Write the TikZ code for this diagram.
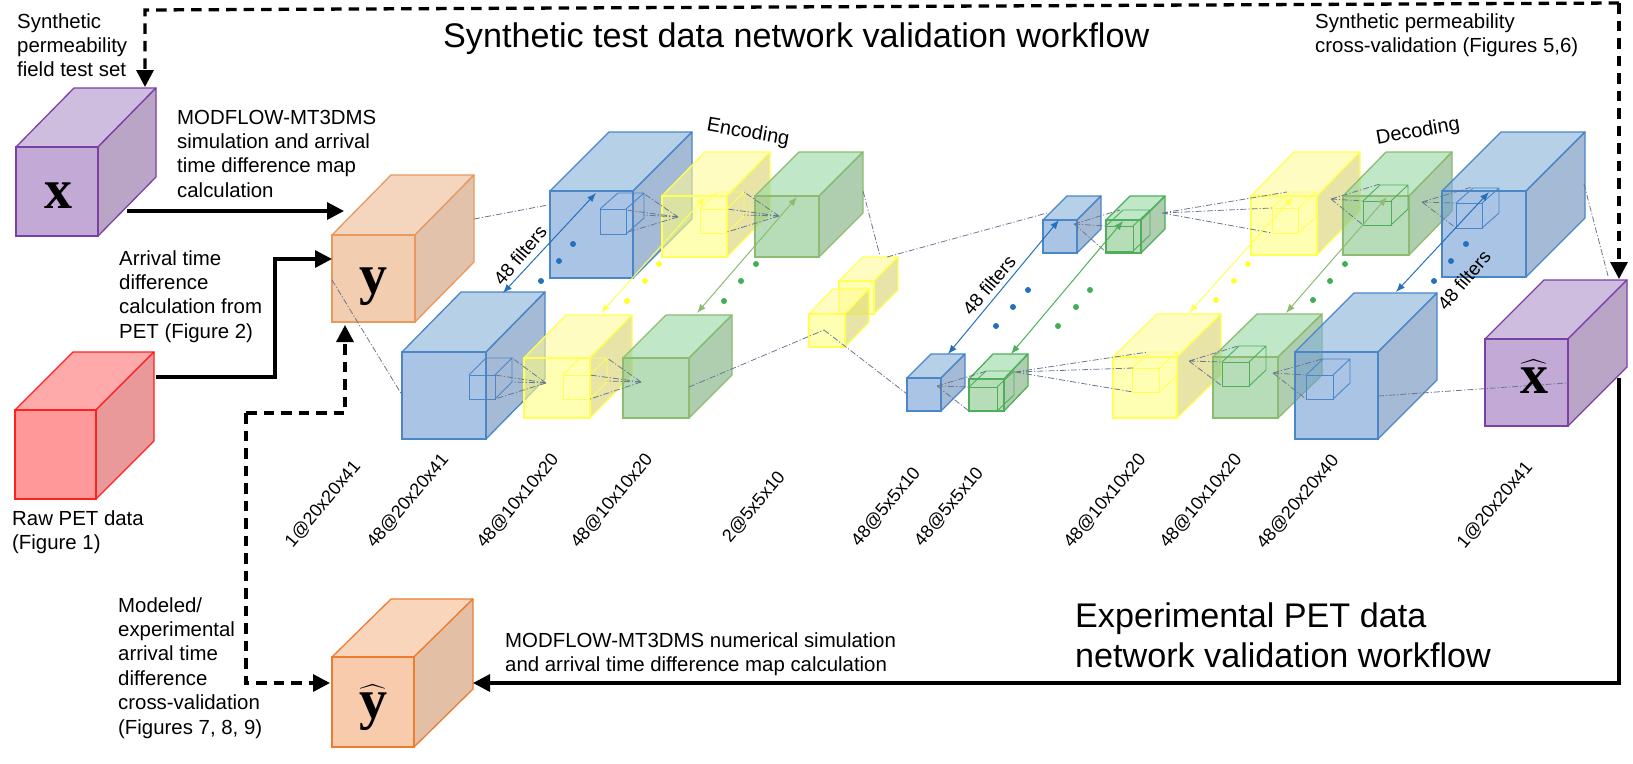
\documentclass[tikz,border=0pt]{standalone}
\usepackage{amsmath}
\usepackage{fontspec}
\setmainfont{Liberation Sans}
\newfontfamily\letterfont{Liberation Serif}
\usetikzlibrary{arrows.meta}
% palettes: final look for opaque cubes, base colour (used at opacity .6) for glass cubes
\definecolor{purplefront}{HTML}{C3A9D6}\definecolor{purpletop}{HTML}{CFBDDF}\definecolor{purpleside}{HTML}{BAA5C7}\definecolor{purpleline}{HTML}{7B3FA5}
\definecolor{redfront}{HTML}{FF9999}\definecolor{redtop}{HTML}{FFAAAA}\definecolor{redside}{HTML}{E99999}\definecolor{redline}{HTML}{FF2020}
\definecolor{orangefront}{HTML}{F2CDB0}\definecolor{orangetop}{HTML}{F4D5BE}\definecolor{orangeside}{HTML}{E2C2AA}\definecolor{orangeline}{HTML}{E8995E}
\definecolor{dorangefront}{HTML}{F8CBAD}\definecolor{dorangetop}{HTML}{F8D5BB}\definecolor{dorangeside}{HTML}{E3C0A5}\definecolor{dorangeline}{HTML}{ED7D31}
\definecolor{bluefront}{HTML}{709DD2}\definecolor{bluetop}{HTML}{85B1D9}\definecolor{blueside}{HTML}{698CB9}\definecolor{blueline}{HTML}{4A86C8}
\definecolor{yellowfront}{HTML}{FFFF80}\definecolor{yellowtop}{HTML}{FFFA99}\definecolor{yellowside}{HTML}{D9D26E}\definecolor{yellowline}{HTML}{FFFF55}
\definecolor{greenfront}{HTML}{85C689}\definecolor{greentop}{HTML}{94D7A3}\definecolor{greenside}{HTML}{7AAD7B}\definecolor{greenline}{HTML}{8DBB70}
\colorlet{mgreenfront}{greenfront}\colorlet{mgreentop}{greentop}\colorlet{mgreenside}{greenside}\definecolor{mgreenline}{HTML}{4DAF5A}
\definecolor{dashgrey}{HTML}{6B7690}
\definecolor{dotblue}{HTML}{2470BE}\definecolor{dotyellow}{HTML}{FFFF33}\definecolor{dotgreen}{HTML}{3FAE56}
\tikzset{
  solidcube/.style={},
  glasscube/.style={fill opacity=.6,draw opacity=1,text opacity=1},
  thick arrow/.style={line width=3.3pt,-{Triangle[length=17pt,width=17pt]}},
  dashed arrow/.style={line width=3.3pt,dash pattern=on 10.5pt off 7pt,-{Triangle[length=17pt,width=17pt]}},
  hookline/.style={line width=0.8pt,dashgrey,dash pattern=on 6pt off 2pt on 1.2pt off 2pt},
  label/.style={anchor=base west,inner sep=0pt,font=\fontsize{20.4}{24.4}\selectfont},
  dimlabel/.style={inner sep=0pt,rotate=50,font=\fontsize{18}{22}\selectfont},
  title/.style={anchor=base west,inner sep=0pt,font=\fontsize{34.15}{40}\selectfont},
  sym/.style={anchor=base,inner sep=0pt,font=\fontsize{56}{56}\letterfont\bfseries}
}
\newcommand{\boxcube}[9][glasscube]{%
  \filldraw[#1,fill=#9top,draw=#9line,line width=1.3pt,line join=round] (#3,#4)--++(#7,-#8)--(#5+#7,#4-#8)--(#5,#4)--cycle;
  \filldraw[#1,fill=#9side,draw=#9line,line width=1.3pt,line join=round] (#5,#4)--(#5+#7,#4-#8)--(#5+#7,#6-#8)--(#5,#6)--cycle;
  \node[#1,fill=#9front,draw=#9line,line width=1.3pt,inner sep=0pt,outer sep=0pt,anchor=north west,
        minimum width={(#5-#3)*1pt},minimum height={(#6-#4)*1pt}] (#2) at (#3,#4) {};
}
\newcommand{\wirecube}[8]{%
  \draw[#8line,line width=0.9pt,line join=round] (#2,#3)--++(#6,-#7)--(#4+#6,#3-#7)--(#4,#3)
     (#4+#6,#3-#7)--(#4+#6,#5-#7)--(#4,#5);
  \node[draw=#8line,line width=0.9pt,inner sep=0pt,outer sep=0pt,anchor=north west,
        minimum width={(#4-#2)*1pt},minimum height={(#5-#3)*1pt}] (#1) at (#2,#3) {};
}
\newcommand{\filterarrow}[4]{%
  \coordinate (#1a) at (#3); \coordinate (#1b) at (#4);
  \draw[#2,line width=1pt,{Latex[length=9pt,width=7pt]}-{Latex[length=9pt,width=7pt]}] (#1a) -- (#1b);
}
\newcommand{\threedots}[4]{%
  \fill[#1] (#2) circle[radius=3] (#3) circle[radius=3] (#4) circle[radius=3];
}
\newcommand{\cone}[6]{%
  \coordinate (#1o) at (#2);
  \coordinate (#1p) at (#3); \coordinate (#1q) at (#4); \coordinate (#1r) at (#5);
  \draw[hookline] (#1o)--(#1p) (#1o)--(#1q) (#1o)--(#1r);
  \ifx&#6&\else\coordinate (#1s) at (#6); \draw[hookline] (#1o)--(#1s);\fi
}
\newcommand{\hookup}[3]{%
  \coordinate (#1a) at (#2); \coordinate (#1b) at (#3);
  \draw[hookline] (#1a)--(#1b);
}
\begin{document}
\begin{tikzpicture}[x=1pt,y=-1pt]
\useasboundingbox (0,0) rectangle (1633,763);
% opaque data cubes
\boxcube[solidcube]{xc}{16}{147}{98}{236}{58}{59}{purple}
\boxcube[solidcube]{yc}{332}{235}{415}{322}{59}{60}{orange}
\boxcube[solidcube]{rawc}{15}{410}{96}{499}{58}{58}{red}
\boxcube[solidcube]{yhc}{332}{657}{414}{747}{59}{58}{dorange}
\boxcube[solidcube]{xhc}{1485}{339}{1568}{426}{59}{59}{purple}
% encoder
\boxcube{eb1}{550}{191}{633}{278}{59}{59}{blue}
\boxcube{ey1}{662}{196}{727}{257}{43}{44}{yellow}
\boxcube{eg1}{755}{196}{819}{257}{44}{44}{green}
\boxcube{eb2}{402}{352}{486}{439}{59}{60}{blue}
\boxcube{ey2}{524}{358}{590}{418}{42}{43}{yellow}
\boxcube{eg2}{623}{358}{689}{418}{43}{43}{green}
% bottleneck
\boxcube{lyb}{839}{281}{874}{314}{24}{24}{yellow}
\boxcube{lyf}{809}{314}{845}{347}{24}{25}{yellow}
\boxcube{mb1}{1043}{220}{1077}{253}{24}{24}{blue}
\boxcube{mg1}{1106}{220}{1141}{253}{24}{24}{mgreen}
\boxcube{mb2}{907}{378}{941}{411}{24}{24}{blue}
\boxcube{mg2}{969}{379}{1004}{411}{24}{25}{mgreen}
% decoder
\boxcube{dy1}{1251}{196}{1317}{255}{43}{44}{yellow}
\boxcube{dg1}{1343}{196}{1409}{255}{43}{44}{green}
\boxcube{db1}{1442}{191}{1526}{277}{59}{59}{blue}
\boxcube{dy2}{1113}{357}{1177}{418}{44}{43}{yellow}
\boxcube{dg2}{1213}{357}{1278}{418}{44}{43}{green}
\boxcube{db2}{1295}{352}{1378}{439}{59}{59}{blue}
% inner kernels
\wirecube{k1}{600}{209}{626}{234}{18}{16}{blue}
\wirecube{k2}{700}{209}{727}{233}{17}{17}{yellow}
\wirecube{k3}{469}{375}{495}{399}{17}{17}{blue}
\wirecube{k4}{563}{375}{590}{399}{17}{17}{yellow}
\wirecube{k5}{1106}{226}{1133}{251}{17}{16}{mgreen}
\wirecube{k6}{969}{387}{997}{411}{17}{16}{mgreen}
\wirecube{k7}{1272}{208}{1298}{233}{18}{16}{yellow}
\wirecube{k8}{1363}{201}{1391}{225}{17}{16}{mgreen}
\wirecube{k9}{1456}{203}{1482}{228}{17}{15}{blue}
\wirecube{k10}{1132}{368}{1159}{392}{18}{16}{yellow}
\wirecube{k11}{1222}{362}{1249}{386}{17}{16}{mgreen}
\wirecube{k12}{1306}{375}{1333}{399}{17}{16}{blue}
% dash-dotted hook-ups between layers
\hookup{h1}{474,219}{548,205}
\hookup{h2}{332,280}{402,395}
\hookup{h3}{863,191}{880,256}
\hookup{h4}{887,257}{1047,213}
\hookup{h5}{689,387}{824,330}
\hookup{h6}{824,330}{907,394}
\hookup{h7}{1378,396}{1567,383}
\hookup{h8}{1584,184}{1608,276}
\cone{c1}{678,217}{643,193}{626,210}{628,232}{643,215}
\cone{c2}{779,216}{744,192}{727,209}{727,232}{744,215}
\cone{c3}{546,383}{512,358}{495,375}{495,399}{512,382}
\cone{c4}{641,382}{607,358}{590,375}{590,399}{607,381}
\cone{c5}{1074,224}{1120,210}{1106,226}{1106,252}{}
\cone{c6}{937,386}{987,371}{969,387}{969,411}{}
\cone{c7}{1162,213}{1287,192}{1272,208}{1272,233}{}
\cone{c8}{1015,372}{1148,352}{1133,368}{1133,392}{}
\cone{c9}{1331,199}{1380,184}{1363,201}{1363,225}{}
\cone{c10}{1422,202}{1472,187}{1456,203}{1456,228}{}
\cone{c11}{1189,361}{1238,346}{1222,362}{1222,386}{}
\cone{c12}{1273,373}{1322,359}{1306,375}{1306,399}{}
% filter arrows
\filterarrow{f1}{dotblue}{596,193}{503,293}
\filterarrow{f2}{yellowline}{705,197}{601,313}
\filterarrow{f3}{greenline}{797,197}{697,313}
\filterarrow{f4}{dotblue}{1059,220}{948,354}
\filterarrow{f5}{mgreenline}{1123,221}{1011,354}
\filterarrow{f6}{yellowline}{1293,197}{1189,313}
\filterarrow{f7}{greenline}{1387,197}{1286,313}
\filterarrow{f8}{dotblue}{1489,192}{1396,292}
% dots
\threedots{dotblue}{573,244}{559,261}{541,281}
\threedots{dotyellow}{659,264}{645,281}{627,301}
\threedots{dotgreen}{756,264}{741,281}{724,301}
\threedots{dotblue}{1028,290}{1013,307}{996,326}
\threedots{dotgreen}{1090,290}{1076,307}{1058,326}
\threedots{dotyellow}{1248,264}{1234,281}{1216,300}
\threedots{dotgreen}{1345,264}{1330,281}{1313,300}
\threedots{dotblue}{1466,244}{1451,261}{1434,281}
% workflow connectors
\coordinate (top1) at (1619,279); \coordinate (top2) at (1619,3); \coordinate (top3) at (145,10); \coordinate (top4) at (145,87);
\draw[dashed arrow] (top2) -- (top1);
\draw[dashed arrow] (top2) -- (top3) -- (top4);
\coordinate (a1) at (127,211); \coordinate (a2) at (344,211);
\draw[thick arrow] (a1) -- (a2);
\coordinate (b1) at (156,377); \coordinate (b2) at (275,377); \coordinate (b3) at (275,259); \coordinate (b4) at (332,259);
\draw[thick arrow] (b1) -- (b2) -- (b3) -- (b4);
\coordinate (d1) at (246,413); \coordinate (d2) at (345,413); \coordinate (d3) at (345,325); \coordinate (d4) at (246,683); \coordinate (d5) at (330,683);
\draw[dashed arrow] (d1) -- (d2) -- (d3);
\draw[dashed arrow] (d1) -- (d4) -- (d5);
\coordinate (e1) at (1619,378); \coordinate (e2) at (1619,683); \coordinate (e3) at (473,683);
\draw[thick arrow] (e1) -- (e2) -- (e3);
% symbols
\node[sym] (sx) at (58,208) {x};
\node[sym] (sy) at (373,293) {y};
\node[sym] (syh) at (373,718) {$\widehat{\hbox{y}}$};
\node[sym] (sxh) at (1534,393) {$\widehat{\hbox{x}}$};
% titles
\node[title] (t1) at (443,47) {Synthetic test data network validation workflow};
\node[title] (t2) at (1075,627) {\vtop{\hbox{Experimental PET data}\hbox{network validation workflow}}};
% labels
\node[label] (l1) at (17,28) {\vtop{\hbox{Synthetic}\hbox{permeability}\hbox{field test set}}};
\node[label] (l2) at (177,124) {\vtop{\hbox{MODFLOW-MT3DMS}\hbox{simulation and arrival}\hbox{time difference map}\hbox{calculation}}};
\node[label] (l3) at (119,265) {\vtop{\hbox{Arrival time}\hbox{difference}\hbox{calculation from}\hbox{PET (Figure 2)}}};
\node[label] (l4) at (12,525) {\vtop{\hbox{Raw PET data}\hbox{(Figure 1)}}};
\node[label] (l5) at (118,612) {\vtop{\hbox{Modeled/}\hbox{experimental}\hbox{arrival time}\hbox{difference}\hbox{cross-validation}\hbox{(Figures 7, 8, 9)}}};
\node[label] (l6) at (505,647) {\vtop{\hbox{MODFLOW-MT3DMS numerical simulation}\hbox{and arrival time difference map calculation}}};
\node[label] (l7) at (1315,28) {\vtop{\hbox{Synthetic permeability}\hbox{cross-validation (Figures 5,6)}}};
% rotated
\node[inner sep=0pt,rotate=-10,font=\fontsize{20}{24}\selectfont] (enc) at (748,133) {Encoding};
\node[inner sep=0pt,rotate=10,font=\fontsize{20}{24}\selectfont] (dec) at (1418,132) {Decoding};
\node[dimlabel,font=\fontsize{18.8}{22}\selectfont] (fa) at (520,255) {48 filters};
\node[dimlabel,font=\fontsize{18.8}{22}\selectfont] (fb) at (989,285) {48 filters};
\node[dimlabel,font=\fontsize{18.8}{22}\selectfont] (fc) at (1464,280) {48 filters};
\node[dimlabel] (s1) at (323,504) {1@20x20x41};
\node[dimlabel] (s2) at (408,501) {48@20x20x41};
\node[dimlabel] (s3) at (518,501) {48@10x10x20};
\node[dimlabel] (s4) at (612,501) {48@10x10x20};
\node[dimlabel] (s5) at (754,507) {2@5x5x10};
\node[dimlabel] (s6) at (886,507) {48@5x5x10};
\node[dimlabel] (s7) at (949,507) {48@5x5x10};
\node[dimlabel] (s8) at (1105,501) {48@10x10x20};
\node[dimlabel] (s9) at (1201,501) {48@10x10x20};
\node[dimlabel] (s10) at (1298,502) {48@20x20x40};
\node[dimlabel] (s11) at (1495,505) {1@20x20x41};
\end{tikzpicture}
\end{document}
